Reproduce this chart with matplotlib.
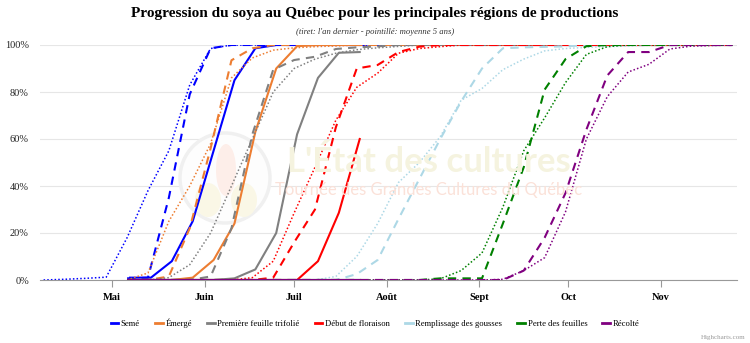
import numpy as np
import pandas as pd
import matplotlib
matplotlib.use("Agg")
import matplotlib.pyplot as plt
import matplotlib.dates as mdates
from matplotlib.ticker import FuncFormatter, FixedLocator
from matplotlib.patches import Ellipse
from matplotlib.lines import Line2D

nan = np.nan

phases = ["Semé", "Émergé", "Première feuille trifolié", "Début de floraison",
          "Remplissage des gousses", "Perte des feuilles", "Récolté"]
colors = ["#0000ff", "#ed7d31", "#808080", "#ff0000", "#add8e6", "#008000", "#800080"]
month_labels = {5: "Mai", 6: "Juin", 7: "Juil", 8: "Août", 9: "Sept", 10: "Oct", 11: "Nov"}

# current year (solid), weekly reports
dates_current = pd.date_range("2023-05-07", periods=12, freq="7D")
seme_cur    = [1, 1, 8, 25, 55, 85, 98.6, 100, 100, 100, 100, 100]
emerge_cur  = [0, 0, 0, 1, 8.5, 24, 63, 90, 99.5, 100, 100, 100]
trifol_cur  = [0, 0, 0, 0, 0, 0.7, 4.5, 20, 62, 86, 96.7, 97]
flor_cur    = [0, 0, 0, 0, 0, 0, 0, 0, 0, 8, 28.6, 60]
rempl_cur   = [0, 0, 0, 0, 0, 0, 0, 0, 0, 0, 0, 0]
perte_cur   = [0, 0, 0, 0, 0, 0, 0, 0, 0, 0, 0, 0]
recolte_cur = [0, 0, 0, 0, 0, 0, 0, 0, 0, 0, 0, 0]

# last year (dashed) and 5-year mean (dotted), weekly
dates_hist = pd.date_range("2023-04-08", periods=34, freq="7D")
seme_last = [nan, nan, nan, nan, 0.7, 1, 35, 79, 98.6,
             100, 100, 100, 100, 100, 100, 100, 100, 100, 100, 100, 100, 100,
             100, 100, 100, 100, 100, 100, 100, 100, 100, 100, 100, 100]
emerge_last = [nan, nan, nan, nan, 0, 0, 1.5, 22, 56, 93.5, 98.6,
               100, 100, 100, 100, 100, 100, 100, 100, 100, 100, 100,
               100, 100, 100, 100, 100, 100, 100, 100, 100, 100, 100, 100]
trifol_last = [nan, nan, nan, nan, 0, 0, 0, 0, 1.5, 22, 62, 89.5, 93.6, 95, 98.3, 99, 99.4,
               100, 100, 100, 100, 100, 100, 100, 100, 100, 100, 100, 100, 100, 100, 100, 100, 100]
flor_last = [nan, nan, nan, nan, 0, 0, 0, 0, 0, 0, 0, 1, 16, 30, 65, 90, 91.5, 97, 99.3,
             100, 100, 100, 100, 100, 100, 100, 100, 100, 100, 100, 100, 100, 100, 100]
rempl_last = [nan, nan, nan, nan, 0, 0, 0, 0, 0, 0, 0, 0, 0, 0, 0, 2.5, 8.5, 26, 43, 60, 76,
              90, 98.6, 99, 99.2, 99.4, 100, 100, 100, 100, 100, 100, 100, 100]
perte_last = [nan, nan, nan, nan, 0, 0, 0, 0, 0, 0, 0, 0, 0, 0, 0, 0, 0, 0, 0, 0.7, 0.7, 0.7,
              24, 48, 81, 94, 99.5, 100, 100, 100, 100, 100, 100, 100]
recolte_last = [nan, nan, nan, nan, 0, 0, 0, 0, 0, 0, 0, 0, 0, 0, 0, 0, 0, 0, 0, 0, 0, 0, 0,
                4, 18, 37, 64, 87, 97, 97, 100, 100, 100, 100]

seme_avg = [0, 0.3, 0.7, 1.2, 18, 38, 55, 83, 98.5,
            100, 100, 100, 100, 100, 100, 100, 100, 100, 100, 100, 100, 100,
            100, 100, 100, 100, 100, 100, 100, 100, 100, 100, 100, 100]
emerge_avg = [nan, nan, nan, nan, 0, 3, 25, 40, 58, 86, 94.5, 97.8, 98.8, 99.3, 99.6,
              100, 100, 100, 100, 100, 100, 100, 100, 100, 100, 100, 100, 100, 100, 100, 100, 100, 100, 100]
trifol_avg = [nan, nan, nan, nan, 0, 0, 1, 6.5, 20, 40, 60, 80, 90, 94, 96.5, 98, 98.8, 99.4,
              100, 100, 100, 100, 100, 100, 100, 100, 100, 100, 100, 100, 100, 100, 100, 100]
flor_avg = [nan, nan, nan, nan, 0, 0, 0, 0, 0, 0, 1, 8, 28.5, 48, 68, 82, 88, 96.5, 98.5, 99.3,
            100, 100, 100, 100, 100, 100, 100, 100, 100, 100, 100, 100, 100, 100]
rempl_avg = [nan, nan, nan, nan, 0, 0, 0, 0, 0, 0, 0, 0, 0, 0, 1.5, 10, 24, 41.5, 50, 61, 76.5,
             81.5, 89.5, 94, 97.5, 98.5, 99, 99.3, 99.6, 100, 100, 100, 100, 100]
perte_avg = [nan, nan, nan, nan, 0, 0, 0, 0, 0, 0, 0, 0, 0, 0, 0, 0, 0, 0, 0, 0.5, 4, 11.5,
             31, 55, 69, 84, 96, 99.3, 100, 100, 100, 100, 100, 100]
recolte_avg = [nan, nan, nan, nan, 0, 0, 0, 0, 0, 0, 0, 0, 0, 0, 0, 0, 0, 0, 0, 0, 0, 0,
               0.3, 4, 9.5, 29, 60, 78, 88.5, 91.8, 98.3, 99.5, 99.8, 100]

current = [seme_cur, emerge_cur, trifol_cur, flor_cur, rempl_cur, perte_cur, recolte_cur]
last = [seme_last, emerge_last, trifol_last, flor_last, rempl_last, perte_last, recolte_last]
avg = [seme_avg, emerge_avg, trifol_avg, flor_avg, rempl_avg, perte_avg, recolte_avg]

W, H = 750, 343
def fx(px): return px / W
def fy(py): return 1 - py / H

serif = ["Liberation Serif", "DejaVu Serif"]
fig = plt.figure(figsize=(W / 100, H / 100), dpi=100)
ax = fig.add_axes([fx(40), fy(280), (737 - 40) / W, (280 - 45) / H])
ax.set_axisbelow(True)

# watermark (background logo)
ax.add_patch(Ellipse((fx(225), fy(178)), 90 / W, 90 / H, transform=fig.transFigure,
                     facecolor="#fdfdfd", edgecolor="#f0f0f0", lw=2.5, zorder=1))
ax.add_patch(Ellipse((fx(226), fy(170)), 20 / W, 52 / H, transform=fig.transFigure,
                     facecolor="#fdeee9", edgecolor="none", zorder=1))
ax.add_patch(Ellipse((fx(208), fy(200)), 26 / W, 34 / H, transform=fig.transFigure,
                     facecolor="#faf7e6", edgecolor="none", zorder=1))
ax.add_patch(Ellipse((fx(244), fy(200)), 26 / W, 34 / H, transform=fig.transFigure,
                     facecolor="#faf7e6", edgecolor="none", zorder=1))
fig.text(fx(429), fy(162), "L'État des cultures", ha="center", va="center",
         fontsize=25, fontweight="bold", family=["Lato", "DejaVu Sans"], color="#f5f3df", zorder=1)
fig.text(fx(429), fy(190), "Tournée des Grandes Cultures du Québec", ha="center", va="center",
         fontsize=12, family=["Lato", "DejaVu Sans"], color="#fbe1d8", zorder=1)

for i in range(len(phases)):
    c = colors[i]
    ax.plot(dates_current, current[i], color=c, lw=1.5, zorder=3,
            solid_joinstyle="round")
    ax.plot(dates_hist, last[i], color=c, lw=1.5, dashes=(4, 3), zorder=3)
    ax.plot(dates_hist, avg[i], color=c, lw=1.1, dashes=(1, 1.4), zorder=3)

x0 = pd.Timestamp("2023-01-01") + pd.Timedelta(days=95.8)
x1 = pd.Timestamp("2023-01-01") + pd.Timedelta(days=329.5)
ax.set_xlim(x0, x1)
ax.set_ylim(0, 100)

ax.yaxis.set_major_locator(FixedLocator([0, 20, 40, 60, 80, 100]))
ax.yaxis.set_major_formatter(FuncFormatter(lambda v, p: f"{int(v)}%"))
ax.xaxis.set_major_locator(mdates.MonthLocator(bymonth=range(5, 12)))
ax.xaxis.set_major_formatter(FuncFormatter(lambda v, p: month_labels.get(mdates.num2date(v).month, "")))

ax.grid(axis="y", color="#e6e6e6", lw=0.8)
for s in ["top", "right", "left"]:
    ax.spines[s].set_visible(False)
ax.spines["bottom"].set_color("#999999")
ax.spines["bottom"].set_linewidth(0.8)
ax.tick_params(axis="y", length=0, pad=8, labelsize=7.5, labelcolor="#222222")
ax.tick_params(axis="x", length=5, width=0.8, color="#999999", pad=4, labelsize=7.5)
for lab in ax.get_yticklabels():
    lab.set_family(serif)
for lab in ax.get_xticklabels():
    lab.set_family(serif)
    lab.set_fontweight("bold")

fig.text(0.5, fy(14), "Progression du soya au Québec pour les principales régions de productions",
         ha="center", va="center", fontsize=11, fontweight="bold", family=serif, color="#000000")
fig.text(0.5, fy(32), "(tiret: l'an dernier - pointillé: moyenne 5 ans)",
         ha="center", va="center", fontsize=6.2, style="italic", family=serif, color="#333333")

handles = [Line2D([0], [0], color=c, lw=2) for c in colors]
leg = fig.legend(handles, phases, loc="center", bbox_to_anchor=(0.5, fy(323)), ncol=7,
                 frameon=False, prop={"family": serif, "size": 6.2},
                 handlelength=0.9, handletextpad=0.3, columnspacing=1.75)

fig.text(fx(745), fy(337), "Highcharts.com", ha="right", va="center", fontsize=5,
         family=serif, color="#999999")

fig.savefig("out.png", dpi=100)
